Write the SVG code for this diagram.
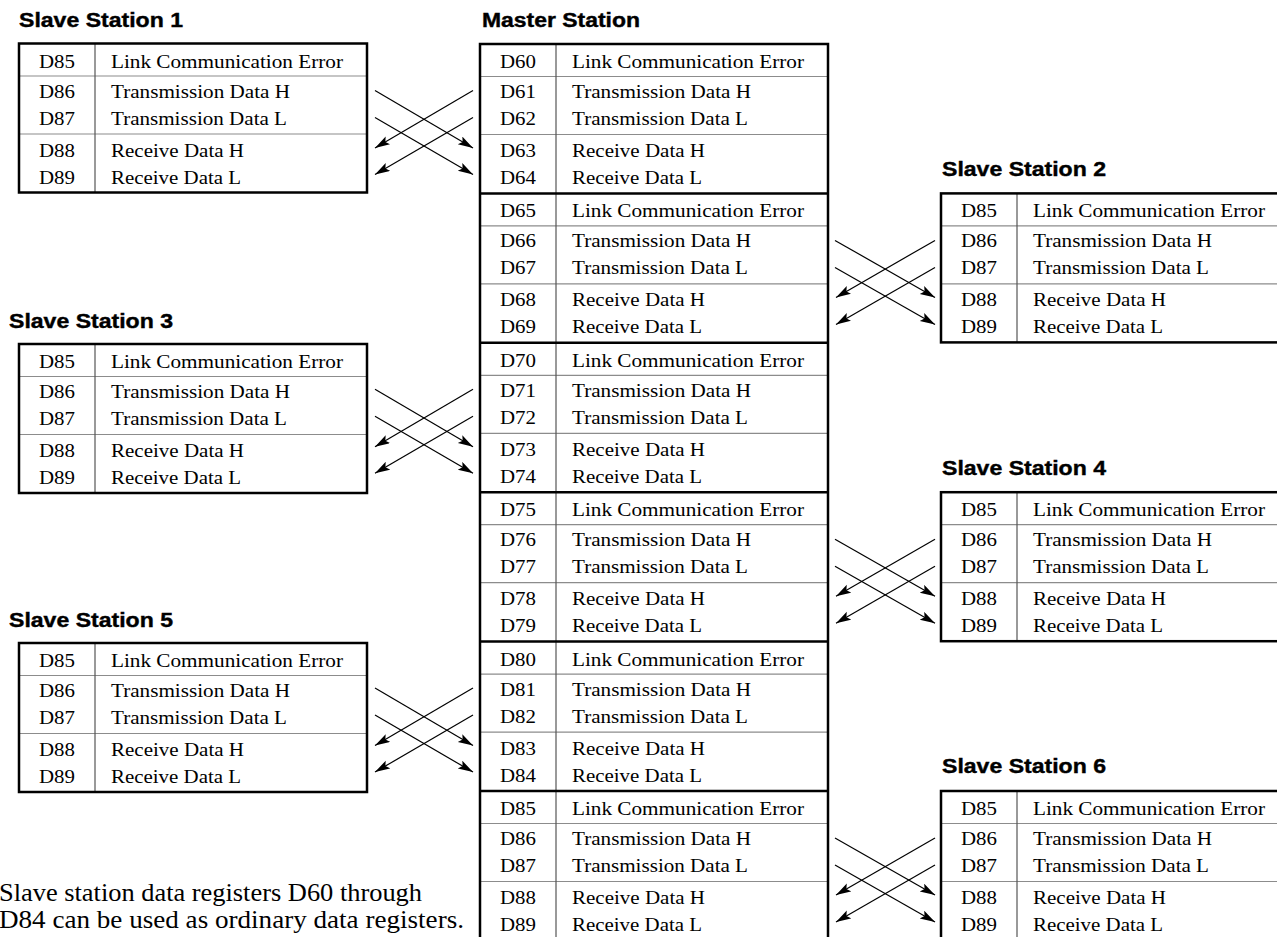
<svg xmlns="http://www.w3.org/2000/svg" width="1277" height="937" viewBox="0 0 1277 937">
<style>
.t{font-family:"Liberation Serif","Times New Roman",serif;font-size:19px;fill:#000}
.r{text-anchor:middle}
.h{font-family:"Liberation Sans",Arial,sans-serif;font-weight:bold;font-size:20px;fill:#000;stroke:#000;stroke-width:0.4}
.note{font-family:"Liberation Serif","Times New Roman",serif;font-size:26px;fill:#000}
.outer{fill:none;stroke:#000;stroke-width:2.5}
.thin{stroke:#8c8c8c;stroke-width:1.2}
.div{stroke:#555;stroke-width:1.2}
.sep{stroke:#000;stroke-width:2.5}
.arr{stroke:#000;stroke-width:1.2;fill:none;marker-end:url(#ah)}
</style>
<defs>
<marker id="ah" markerUnits="userSpaceOnUse" markerWidth="18" markerHeight="12" refX="15" refY="4.5" orient="auto">
<path d="M0,0 L15,4.5 L0,9 L3,4.5 Z" fill="#000"/>
</marker>
</defs>
<rect width="1277" height="937" fill="#fff"/>

<g id="title-slave1"><text class="h" x="19" y="27" textLength="164" lengthAdjust="spacingAndGlyphs">Slave Station 1</text></g>
<g id="title-master"><text class="h" x="482" y="27" textLength="158" lengthAdjust="spacingAndGlyphs">Master Station</text></g>
<g id="title-slave2"><text class="h" x="942" y="175.5" textLength="164" lengthAdjust="spacingAndGlyphs">Slave Station 2</text></g>
<g id="title-slave3"><text class="h" x="9" y="328" textLength="164" lengthAdjust="spacingAndGlyphs">Slave Station 3</text></g>
<g id="title-slave4"><text class="h" x="942" y="475" textLength="164" lengthAdjust="spacingAndGlyphs">Slave Station 4</text></g>
<g id="title-slave5"><text class="h" x="9" y="627" textLength="164" lengthAdjust="spacingAndGlyphs">Slave Station 5</text></g>
<g id="title-slave6"><text class="h" x="942" y="773" textLength="164" lengthAdjust="spacingAndGlyphs">Slave Station 6</text></g>

<!-- Master station -->
<g id="master">
<line class="thin" x1="480" x2="828" y1="76.5" y2="76.5"/>
<line class="thin" x1="480" x2="828" y1="134.5" y2="134.5"/>
<line class="thin" x1="480" x2="828" y1="225.9" y2="225.9"/>
<line class="thin" x1="480" x2="828" y1="283.9" y2="283.9"/>
<line class="thin" x1="480" x2="828" y1="375.3" y2="375.3"/>
<line class="thin" x1="480" x2="828" y1="433.3" y2="433.3"/>
<line class="thin" x1="480" x2="828" y1="524.7" y2="524.7"/>
<line class="thin" x1="480" x2="828" y1="582.7" y2="582.7"/>
<line class="thin" x1="480" x2="828" y1="674.1" y2="674.1"/>
<line class="thin" x1="480" x2="828" y1="732.1" y2="732.1"/>
<line class="thin" x1="480" x2="828" y1="823.5" y2="823.5"/>
<line class="thin" x1="480" x2="828" y1="881.5" y2="881.5"/>
<line class="div" x1="556" x2="556" y1="44" y2="940"/>
<line class="sep" x1="480" x2="828" y1="193.4" y2="193.4"/>
<line class="sep" x1="480" x2="828" y1="342.8" y2="342.8"/>
<line class="sep" x1="480" x2="828" y1="492.2" y2="492.2"/>
<line class="sep" x1="480" x2="828" y1="641.6" y2="641.6"/>
<line class="sep" x1="480" x2="828" y1="791" y2="791"/>
<rect class="outer" x="480" y="44" width="348" height="900"/>

<text class="t r" x="518" y="68" textLength="36" lengthAdjust="spacingAndGlyphs">D60</text>
<text class="t r" x="518" y="98" textLength="36" lengthAdjust="spacingAndGlyphs">D61</text>
<text class="t r" x="518" y="125" textLength="36" lengthAdjust="spacingAndGlyphs">D62</text>
<text class="t r" x="518" y="157" textLength="36" lengthAdjust="spacingAndGlyphs">D63</text>
<text class="t r" x="518" y="184" textLength="36" lengthAdjust="spacingAndGlyphs">D64</text>
<text class="t" x="572" y="68" textLength="232" lengthAdjust="spacingAndGlyphs">Link Communication Error</text>
<text class="t" x="572" y="98" textLength="179" lengthAdjust="spacingAndGlyphs">Transmission Data H</text>
<text class="t" x="572" y="125" textLength="176" lengthAdjust="spacingAndGlyphs">Transmission Data L</text>
<text class="t" x="572" y="157" textLength="133" lengthAdjust="spacingAndGlyphs">Receive Data H</text>
<text class="t" x="572" y="184" textLength="130" lengthAdjust="spacingAndGlyphs">Receive Data L</text>

<text class="t r" x="518" y="217.4" textLength="36" lengthAdjust="spacingAndGlyphs">D65</text>
<text class="t r" x="518" y="247.4" textLength="36" lengthAdjust="spacingAndGlyphs">D66</text>
<text class="t r" x="518" y="274.4" textLength="36" lengthAdjust="spacingAndGlyphs">D67</text>
<text class="t r" x="518" y="306.4" textLength="36" lengthAdjust="spacingAndGlyphs">D68</text>
<text class="t r" x="518" y="333.4" textLength="36" lengthAdjust="spacingAndGlyphs">D69</text>
<text class="t" x="572" y="217.4" textLength="232" lengthAdjust="spacingAndGlyphs">Link Communication Error</text>
<text class="t" x="572" y="247.4" textLength="179" lengthAdjust="spacingAndGlyphs">Transmission Data H</text>
<text class="t" x="572" y="274.4" textLength="176" lengthAdjust="spacingAndGlyphs">Transmission Data L</text>
<text class="t" x="572" y="306.4" textLength="133" lengthAdjust="spacingAndGlyphs">Receive Data H</text>
<text class="t" x="572" y="333.4" textLength="130" lengthAdjust="spacingAndGlyphs">Receive Data L</text>

<text class="t r" x="518" y="366.8" textLength="36" lengthAdjust="spacingAndGlyphs">D70</text>
<text class="t r" x="518" y="396.8" textLength="36" lengthAdjust="spacingAndGlyphs">D71</text>
<text class="t r" x="518" y="423.8" textLength="36" lengthAdjust="spacingAndGlyphs">D72</text>
<text class="t r" x="518" y="455.8" textLength="36" lengthAdjust="spacingAndGlyphs">D73</text>
<text class="t r" x="518" y="482.8" textLength="36" lengthAdjust="spacingAndGlyphs">D74</text>
<text class="t" x="572" y="366.8" textLength="232" lengthAdjust="spacingAndGlyphs">Link Communication Error</text>
<text class="t" x="572" y="396.8" textLength="179" lengthAdjust="spacingAndGlyphs">Transmission Data H</text>
<text class="t" x="572" y="423.8" textLength="176" lengthAdjust="spacingAndGlyphs">Transmission Data L</text>
<text class="t" x="572" y="455.8" textLength="133" lengthAdjust="spacingAndGlyphs">Receive Data H</text>
<text class="t" x="572" y="482.8" textLength="130" lengthAdjust="spacingAndGlyphs">Receive Data L</text>

<text class="t r" x="518" y="516.2" textLength="36" lengthAdjust="spacingAndGlyphs">D75</text>
<text class="t r" x="518" y="546.2" textLength="36" lengthAdjust="spacingAndGlyphs">D76</text>
<text class="t r" x="518" y="573.2" textLength="36" lengthAdjust="spacingAndGlyphs">D77</text>
<text class="t r" x="518" y="605.2" textLength="36" lengthAdjust="spacingAndGlyphs">D78</text>
<text class="t r" x="518" y="632.2" textLength="36" lengthAdjust="spacingAndGlyphs">D79</text>
<text class="t" x="572" y="516.2" textLength="232" lengthAdjust="spacingAndGlyphs">Link Communication Error</text>
<text class="t" x="572" y="546.2" textLength="179" lengthAdjust="spacingAndGlyphs">Transmission Data H</text>
<text class="t" x="572" y="573.2" textLength="176" lengthAdjust="spacingAndGlyphs">Transmission Data L</text>
<text class="t" x="572" y="605.2" textLength="133" lengthAdjust="spacingAndGlyphs">Receive Data H</text>
<text class="t" x="572" y="632.2" textLength="130" lengthAdjust="spacingAndGlyphs">Receive Data L</text>

<text class="t r" x="518" y="665.6" textLength="36" lengthAdjust="spacingAndGlyphs">D80</text>
<text class="t r" x="518" y="695.6" textLength="36" lengthAdjust="spacingAndGlyphs">D81</text>
<text class="t r" x="518" y="722.6" textLength="36" lengthAdjust="spacingAndGlyphs">D82</text>
<text class="t r" x="518" y="754.6" textLength="36" lengthAdjust="spacingAndGlyphs">D83</text>
<text class="t r" x="518" y="781.6" textLength="36" lengthAdjust="spacingAndGlyphs">D84</text>
<text class="t" x="572" y="665.6" textLength="232" lengthAdjust="spacingAndGlyphs">Link Communication Error</text>
<text class="t" x="572" y="695.6" textLength="179" lengthAdjust="spacingAndGlyphs">Transmission Data H</text>
<text class="t" x="572" y="722.6" textLength="176" lengthAdjust="spacingAndGlyphs">Transmission Data L</text>
<text class="t" x="572" y="754.6" textLength="133" lengthAdjust="spacingAndGlyphs">Receive Data H</text>
<text class="t" x="572" y="781.6" textLength="130" lengthAdjust="spacingAndGlyphs">Receive Data L</text>

<text class="t r" x="518" y="815" textLength="36" lengthAdjust="spacingAndGlyphs">D85</text>
<text class="t r" x="518" y="845" textLength="36" lengthAdjust="spacingAndGlyphs">D86</text>
<text class="t r" x="518" y="872" textLength="36" lengthAdjust="spacingAndGlyphs">D87</text>
<text class="t r" x="518" y="904" textLength="36" lengthAdjust="spacingAndGlyphs">D88</text>
<text class="t r" x="518" y="931" textLength="36" lengthAdjust="spacingAndGlyphs">D89</text>
<text class="t" x="572" y="815" textLength="232" lengthAdjust="spacingAndGlyphs">Link Communication Error</text>
<text class="t" x="572" y="845" textLength="179" lengthAdjust="spacingAndGlyphs">Transmission Data H</text>
<text class="t" x="572" y="872" textLength="176" lengthAdjust="spacingAndGlyphs">Transmission Data L</text>
<text class="t" x="572" y="904" textLength="133" lengthAdjust="spacingAndGlyphs">Receive Data H</text>
<text class="t" x="572" y="931" textLength="130" lengthAdjust="spacingAndGlyphs">Receive Data L</text>
</g>

<!-- Slave 1 -->
<g id="slave1">
<line class="thin" x1="19" x2="367" y1="76" y2="76"/>
<line class="thin" x1="19" x2="367" y1="134" y2="134"/>
<line class="div" x1="95" x2="95" y1="43.5" y2="192.5"/>
<rect class="outer" x="19" y="43.5" width="348" height="149"/>
<text class="t r" x="57" y="67.5" textLength="36" lengthAdjust="spacingAndGlyphs">D85</text>
<text class="t r" x="57" y="97.5" textLength="36" lengthAdjust="spacingAndGlyphs">D86</text>
<text class="t r" x="57" y="124.5" textLength="36" lengthAdjust="spacingAndGlyphs">D87</text>
<text class="t r" x="57" y="156.5" textLength="36" lengthAdjust="spacingAndGlyphs">D88</text>
<text class="t r" x="57" y="183.5" textLength="36" lengthAdjust="spacingAndGlyphs">D89</text>
<text class="t" x="111" y="67.5" textLength="232" lengthAdjust="spacingAndGlyphs">Link Communication Error</text>
<text class="t" x="111" y="97.5" textLength="179" lengthAdjust="spacingAndGlyphs">Transmission Data H</text>
<text class="t" x="111" y="124.5" textLength="176" lengthAdjust="spacingAndGlyphs">Transmission Data L</text>
<text class="t" x="111" y="156.5" textLength="133" lengthAdjust="spacingAndGlyphs">Receive Data H</text>
<text class="t" x="111" y="183.5" textLength="130" lengthAdjust="spacingAndGlyphs">Receive Data L</text>
</g>

<!-- Slave 3 -->
<g id="slave3">
<line class="thin" x1="19" x2="367" y1="376.5" y2="376.5"/>
<line class="thin" x1="19" x2="367" y1="434.5" y2="434.5"/>
<line class="div" x1="95" x2="95" y1="344" y2="493"/>
<rect class="outer" x="19" y="344" width="348" height="149"/>
<text class="t r" x="57" y="368" textLength="36" lengthAdjust="spacingAndGlyphs">D85</text>
<text class="t r" x="57" y="398" textLength="36" lengthAdjust="spacingAndGlyphs">D86</text>
<text class="t r" x="57" y="425" textLength="36" lengthAdjust="spacingAndGlyphs">D87</text>
<text class="t r" x="57" y="457" textLength="36" lengthAdjust="spacingAndGlyphs">D88</text>
<text class="t r" x="57" y="484" textLength="36" lengthAdjust="spacingAndGlyphs">D89</text>
<text class="t" x="111" y="368" textLength="232" lengthAdjust="spacingAndGlyphs">Link Communication Error</text>
<text class="t" x="111" y="398" textLength="179" lengthAdjust="spacingAndGlyphs">Transmission Data H</text>
<text class="t" x="111" y="425" textLength="176" lengthAdjust="spacingAndGlyphs">Transmission Data L</text>
<text class="t" x="111" y="457" textLength="133" lengthAdjust="spacingAndGlyphs">Receive Data H</text>
<text class="t" x="111" y="484" textLength="130" lengthAdjust="spacingAndGlyphs">Receive Data L</text>
</g>

<!-- Slave 5 -->
<g id="slave5">
<line class="thin" x1="19" x2="367" y1="675.5" y2="675.5"/>
<line class="thin" x1="19" x2="367" y1="733.5" y2="733.5"/>
<line class="div" x1="95" x2="95" y1="643" y2="792"/>
<rect class="outer" x="19" y="643" width="348" height="149"/>
<text class="t r" x="57" y="667" textLength="36" lengthAdjust="spacingAndGlyphs">D85</text>
<text class="t r" x="57" y="697" textLength="36" lengthAdjust="spacingAndGlyphs">D86</text>
<text class="t r" x="57" y="724" textLength="36" lengthAdjust="spacingAndGlyphs">D87</text>
<text class="t r" x="57" y="756" textLength="36" lengthAdjust="spacingAndGlyphs">D88</text>
<text class="t r" x="57" y="783" textLength="36" lengthAdjust="spacingAndGlyphs">D89</text>
<text class="t" x="111" y="667" textLength="232" lengthAdjust="spacingAndGlyphs">Link Communication Error</text>
<text class="t" x="111" y="697" textLength="179" lengthAdjust="spacingAndGlyphs">Transmission Data H</text>
<text class="t" x="111" y="724" textLength="176" lengthAdjust="spacingAndGlyphs">Transmission Data L</text>
<text class="t" x="111" y="756" textLength="133" lengthAdjust="spacingAndGlyphs">Receive Data H</text>
<text class="t" x="111" y="783" textLength="130" lengthAdjust="spacingAndGlyphs">Receive Data L</text>
</g>

<!-- Slave 2 -->
<g id="slave2">
<line class="thin" x1="941" x2="1289" y1="225.9" y2="225.9"/>
<line class="thin" x1="941" x2="1289" y1="283.9" y2="283.9"/>
<line class="div" x1="1017" x2="1017" y1="193.4" y2="342.4"/>
<rect class="outer" x="941" y="193.4" width="348" height="149"/>
<text class="t r" x="979" y="217.4" textLength="36" lengthAdjust="spacingAndGlyphs">D85</text>
<text class="t r" x="979" y="247.4" textLength="36" lengthAdjust="spacingAndGlyphs">D86</text>
<text class="t r" x="979" y="274.4" textLength="36" lengthAdjust="spacingAndGlyphs">D87</text>
<text class="t r" x="979" y="306.4" textLength="36" lengthAdjust="spacingAndGlyphs">D88</text>
<text class="t r" x="979" y="333.4" textLength="36" lengthAdjust="spacingAndGlyphs">D89</text>
<text class="t" x="1033" y="217.4" textLength="232" lengthAdjust="spacingAndGlyphs">Link Communication Error</text>
<text class="t" x="1033" y="247.4" textLength="179" lengthAdjust="spacingAndGlyphs">Transmission Data H</text>
<text class="t" x="1033" y="274.4" textLength="176" lengthAdjust="spacingAndGlyphs">Transmission Data L</text>
<text class="t" x="1033" y="306.4" textLength="133" lengthAdjust="spacingAndGlyphs">Receive Data H</text>
<text class="t" x="1033" y="333.4" textLength="130" lengthAdjust="spacingAndGlyphs">Receive Data L</text>
</g>

<!-- Slave 4 -->
<g id="slave4">
<line class="thin" x1="941" x2="1289" y1="524.7" y2="524.7"/>
<line class="thin" x1="941" x2="1289" y1="582.7" y2="582.7"/>
<line class="div" x1="1017" x2="1017" y1="492.2" y2="641.2"/>
<rect class="outer" x="941" y="492.2" width="348" height="149"/>
<text class="t r" x="979" y="516.2" textLength="36" lengthAdjust="spacingAndGlyphs">D85</text>
<text class="t r" x="979" y="546.2" textLength="36" lengthAdjust="spacingAndGlyphs">D86</text>
<text class="t r" x="979" y="573.2" textLength="36" lengthAdjust="spacingAndGlyphs">D87</text>
<text class="t r" x="979" y="605.2" textLength="36" lengthAdjust="spacingAndGlyphs">D88</text>
<text class="t r" x="979" y="632.2" textLength="36" lengthAdjust="spacingAndGlyphs">D89</text>
<text class="t" x="1033" y="516.2" textLength="232" lengthAdjust="spacingAndGlyphs">Link Communication Error</text>
<text class="t" x="1033" y="546.2" textLength="179" lengthAdjust="spacingAndGlyphs">Transmission Data H</text>
<text class="t" x="1033" y="573.2" textLength="176" lengthAdjust="spacingAndGlyphs">Transmission Data L</text>
<text class="t" x="1033" y="605.2" textLength="133" lengthAdjust="spacingAndGlyphs">Receive Data H</text>
<text class="t" x="1033" y="632.2" textLength="130" lengthAdjust="spacingAndGlyphs">Receive Data L</text>
</g>

<!-- Slave 6 -->
<g id="slave6">
<line class="thin" x1="941" x2="1289" y1="823.5" y2="823.5"/>
<line class="thin" x1="941" x2="1289" y1="881.5" y2="881.5"/>
<line class="div" x1="1017" x2="1017" y1="791" y2="940"/>
<rect class="outer" x="941" y="791" width="348" height="149"/>
<text class="t r" x="979" y="815" textLength="36" lengthAdjust="spacingAndGlyphs">D85</text>
<text class="t r" x="979" y="845" textLength="36" lengthAdjust="spacingAndGlyphs">D86</text>
<text class="t r" x="979" y="872" textLength="36" lengthAdjust="spacingAndGlyphs">D87</text>
<text class="t r" x="979" y="904" textLength="36" lengthAdjust="spacingAndGlyphs">D88</text>
<text class="t r" x="979" y="931" textLength="36" lengthAdjust="spacingAndGlyphs">D89</text>
<text class="t" x="1033" y="815" textLength="232" lengthAdjust="spacingAndGlyphs">Link Communication Error</text>
<text class="t" x="1033" y="845" textLength="179" lengthAdjust="spacingAndGlyphs">Transmission Data H</text>
<text class="t" x="1033" y="872" textLength="176" lengthAdjust="spacingAndGlyphs">Transmission Data L</text>
<text class="t" x="1033" y="904" textLength="133" lengthAdjust="spacingAndGlyphs">Receive Data H</text>
<text class="t" x="1033" y="931" textLength="130" lengthAdjust="spacingAndGlyphs">Receive Data L</text>
</g>

<!-- Connectors -->
<g id="connectors">
<path class="arr" d="M375,90.5 L473,148"/>
<path class="arr" d="M375,117.5 L473,174.5"/>
<path class="arr" d="M473,90.5 L375,148"/>
<path class="arr" d="M473,117.5 L375,174.5"/>

<path class="arr" d="M375,389.3 L473,446.8"/>
<path class="arr" d="M375,416.3 L473,473.3"/>
<path class="arr" d="M473,389.3 L375,446.8"/>
<path class="arr" d="M473,416.3 L375,473.3"/>

<path class="arr" d="M375,688.1 L473,745.6"/>
<path class="arr" d="M375,715.1 L473,772.1"/>
<path class="arr" d="M473,688.1 L375,745.6"/>
<path class="arr" d="M473,715.1 L375,772.1"/>

<path class="arr" d="M835,240.4 L935,297.4"/>
<path class="arr" d="M835,267.4 L935,324.4"/>
<path class="arr" d="M935,240.4 L836,297.4"/>
<path class="arr" d="M935,267.4 L836,324.4"/>

<path class="arr" d="M835,539.2 L935,596.2"/>
<path class="arr" d="M835,566.2 L935,623.2"/>
<path class="arr" d="M935,539.2 L836,596.2"/>
<path class="arr" d="M935,566.2 L836,623.2"/>

<path class="arr" d="M835,838 L935,895"/>
<path class="arr" d="M835,865 L935,922"/>
<path class="arr" d="M935,838 L836,895"/>
<path class="arr" d="M935,865 L836,922"/>
</g>

<g id="note" font-family="'Liberation Serif', 'Times New Roman', serif" font-size="26">
<text class="note" x="-1" y="901" textLength="423" lengthAdjust="spacingAndGlyphs">Slave station data registers D60 through</text>
<text class="note" x="-1" y="928" textLength="465" lengthAdjust="spacingAndGlyphs">D84 can be used as ordinary data registers.</text>
</g>
</svg>
